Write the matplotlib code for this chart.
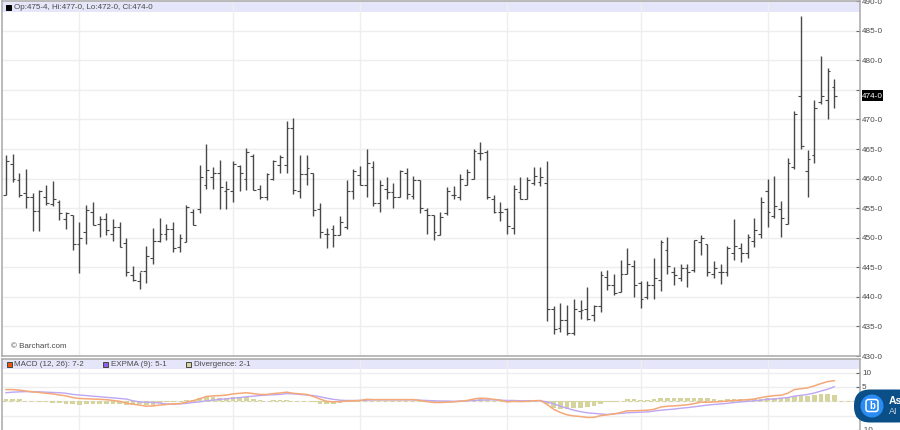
import matplotlib
matplotlib.use("Agg")
import matplotlib.pyplot as plt
from matplotlib.patches import FancyBboxPatch, Rectangle, Circle

plt.rcParams['font.family'] = ['Liberation Sans', 'DejaVu Sans']

highs = [464.0,464.2,461.0,461.7,457.6,458.15,458.9,459.6,456.35,454.4,453.8,452.7,455.5,456.0,453.7,454.1,453.1,452.7,449.9,445.3,
 444.2,448.6,451.7,453.4,452.3,452.7,450.6,455.5,454.8,462.3,465.8,462.0,463.2,459.6,463.0,462.3,465.2,464.1,458.9,461.0,
 463.2,464.0,469.8,470.2,464.0,464.0,461.0,455.9,451.7,452.2,453.65,459.7,461.7,462.1,465.0,463.0,459.7,460.3,459.2,461.4,
 461.8,460.5,459.75,454.95,453.8,454.4,458.6,458.7,460.8,461.7,465.0,466.2,464.8,457.3,456.1,455.0,458.9,460.3,460.3,462.0,
 462.0,463.0,438.4,438.9,438.7,439.7,439.4,441.7,438.6,444.4,444.6,443.9,446.2,448.2,446.2,442.6,442.7,446.6,449.6,450.1,
 445.0,445.6,445.6,449.7,450.4,449.0,446.1,445.5,448.6,453.1,449.1,450.6,453.4,456.9,459.9,460.5,456.2,463.5,471.5,487.5,
 464.8,473.3,480.7,478.7,476.9]
lows = [457.2,459.45,456.9,455.1,451.2,451.2,455.5,455.4,453.0,451.4,447.9,444.1,448.9,452.1,450.1,450.4,449.5,448.5,443.5,442.7,
 441.4,442.4,445.6,449.3,449.6,447.6,447.6,449.2,452.1,454.1,458.3,458.3,454.8,454.8,456.1,457.9,458.0,458.0,456.5,456.35,
 459.7,461.0,461.0,457.4,456.64,458.9,453.7,450.0,448.2,448.35,450.4,451.5,456.6,458.9,456.9,455.4,454.4,456.6,455.1,456.9,
 456.6,456.6,454.1,450.6,449.7,450.4,453.9,456.5,456.4,458.9,459.9,463.2,456.5,454.1,452.9,450.6,450.6,456.6,456.6,459.0,
 458.7,436.0,433.7,434.0,433.5,433.6,436.2,436.1,436.0,437.5,441.2,440.4,440.8,443.9,440.0,438.2,439.7,439.7,441.0,443.9,
 442.0,442.7,441.7,444.2,447.0,443.5,443.2,442.2,443.5,446.2,445.9,446.5,448.5,449.9,451.8,453.4,450.1,452.4,461.6,465.0,
 456.9,462.7,472.7,470.0,472.0]
opens = [457.2,462.55,459.7,457.5,456.9,454.5,456.9,455.7,456.1,453.1,453.8,448.9,450.9,454.3,452.3,453.2,450.7,451.8,449.1,443.7,
 442.7,444.4,446.5,449.5,450.7,451.4,448.5,449.3,454.3,454.9,458.9,460.3,461.0,457.9,457.9,462.2,460.0,463.9,458.2,456.9,
 459.9,462.3,462.3,468.5,457.88,460.8,460.9,454.9,450.7,451.4,450.4,451.85,457.9,460.6,458.9,462.0,455.9,458.3,457.7,456.9,
 460.9,457.1,459.75,454.7,453.8,450.4,454.1,457.2,456.9,458.9,459.9,464.4,464.5,456.6,454.4,454.8,451.6,457.8,456.6,459.2,
 459.5,459.2,438.0,434.8,436.1,433.9,437.6,437.9,436.9,438.4,443.4,442.0,440.8,443.9,445.2,442.4,439.9,442.0,442.9,448.0,
 444.2,443.2,444.8,444.6,449.3,448.9,443.8,444.2,444.2,447.5,448.2,447.4,449.5,450.7,457.9,453.6,454.9,452.4,462.0,474.0,
 461.3,464.0,473.0,473.3,475.5]
closes = [462.9,459.9,457.2,456.9,454.5,457.9,455.9,456.6,454.2,454.1,448.9,449.9,454.7,452.1,453.2,451.3,451.8,448.5,444.2,442.9,
 444.4,446.9,449.5,450.6,451.4,448.2,449.9,455.2,452.1,460.3,461.5,461.0,458.6,458.2,462.4,460.9,464.5,458.0,456.9,460.7,
 462.9,463.7,468.5,458.0,460.76,461.8,454.7,450.9,450.7,450.4,452.7,457.9,461.3,458.9,462.6,455.9,458.9,457.7,456.9,461.3,
 457.4,459.75,454.95,453.8,450.9,453.5,457.9,457.2,459.9,461.1,464.7,464.4,456.9,454.4,454.4,452.0,458.2,456.6,459.7,460.5,
 460.2,438.0,434.5,436.1,433.9,438.0,437.75,436.2,438.5,443.7,442.0,440.6,443.9,445.6,442.0,439.7,442.0,443.2,449.2,445.2,
 443.7,444.8,444.2,449.7,450.0,444.2,444.8,444.2,448.3,448.6,447.4,450.1,451.3,456.0,454.3,455.4,453.4,462.7,471.0,465.5,
 463.3,472.0,474.0,478.2,474.0]

macd = [4.1,4.1,3.9,3.6,3.3,3.1,2.8,2.6,2.2,1.9,1.3,1.0,.9,.8,.7,.6,.3,0,-.6,-1,-1.3,-1.7,-1.6,-1.3,-1.1,-.9,-.8,-.3,.2,.9,
 1.7,1.9,2.0,2.2,2.6,2.8,3.0,2.7,2.4,2.4,2.7,2.9,3.2,2.8,2.6,2.4,1.7,.8,0,-.2,-.1,.1,.2,.3,.7,.6,.6,.6,.6,.6,
 .6,.6,.3,-.1,-.4,-.4,-.3,-.2,0,.3,.8,1.1,1.0,.7,.4,-.2,0,-.1,0,.2,.3,-1.1,-2.8,-3.9,-4.7,-5.1,-5.3,-5.6,-5.6,-5,
 -4.7,-4.4,-3.9,-3.3,-3.3,-3.2,-3.1,-2.8,-2.0,-1.7,-1.6,-1.4,-1.2,-.8,-.3,-.3,-.2,-.1,.1,.3,.4,.6,.8,1.3,1.7,2,2.1,2.8,4.1,4.4,
 4.7,5.4,6.2,6.9,7.2]
expma = [3.0,3.2,3.3,3.4,3.3,3.3,3.2,3.1,3,2.8,2.4,2.2,2,1.8,1.6,1.4,1.2,1,.8,.2,-.2,-.3,-.4,-.6,-.9,-1,-.9,-.7,-.4,-.2,
 .2,.4,.7,.9,1.1,1.3,1.6,1.8,2,2.2,2.3,2.4,2.7,2.6,2.4,2.2,2.0,1.6,1.1,.7,.4,.3,.3,.3,.4,.5,.5,.5,.5,.5,
 .5,.5,.4,.3,.2,.1,.1,0,.1,.2,.3,.4,.5,.5,.4,.3,.3,.2,.2,.2,.2,-.2,-.9,-1.7,-2.4,-3.1,-3.6,-4,-4.2,-4.4,
 -4.6,-4.4,-4.2,-4,-3.9,-3.8,-3.7,-3.4,-3.1,-2.9,-2.7,-2.4,-2.2,-1.9,-1.6,-1.3,-1.1,-.9,-.7,-.4,-.2,0,.2,.4,.7,.8,1.1,1.3,1.8,2.1,
 2.4,2.9,3.6,4.2,5.1]
divergence = [.9,.9,.7,.1,.1,-.1,-.3,-.5,-.7,-.9,-1.1,-1.2,-1.1,-1,-.9,-.8,-.8,-1,-1.3,-1.3,-1.1,-1.2,-1.2,-.7,-.2,-.1,.1,.4,.6,1.1,
 1.5,1.5,1.3,1.3,1.5,1.5,1.4,.9,.4,.2,.4,.5,.5,.2,.2,.2,-.3,-.8,-1.1,-.9,-.5,-.2,-.1,0,.2,.1,.1,.1,.1,.1,
 .1,.1,-.1,-.3,-.5,-.5,-.4,-.2,-.1,.1,.5,.7,.5,.2,0,-.4,-.3,-.3,-.2,0,.1,-.8,-2.2,-2.6,-2.8,-2.4,-2.2,-1.9,-1.5,-.8,
 -.3,-.1,.2,.8,.8,.6,.6,.7,1.2,1.2,1.1,1.1,1.1,1.2,1.3,1.0,.9,.6,.7,.7,.7,.7,.9,.9,1.0,1.1,1.1,1.2,1.7,1.9,
 2,2.2,2.4,2.7,2.2]

grid_bars = [11, 34, 53, 75, 95, 114]
price_ticks = [490,485,480,470,465,460,455,450,445,440,435,430]
price_labels = ['490-0','485-0','480-0','470-0','465-0','460-0','455-0','450-0','445-0','440-0','435-0','430-0']
study_ticks = [10,5,-5,-10]
header = 'Op:475-4, Hi:477-0, Lo:472-0, Cl:474-0'
last_label = '474-0'
last_value = 474.0

W, H = 900, 430
fig = plt.figure(figsize=(W/100, H/100), dpi=100, facecolor='white')
def axes_px(x0, y0, x1, y1):
    return fig.add_axes([x0/W, 1-y1/H, (x1-x0)/W, (y1-y0)/H])

GRID = '#eeeeee'; FRAME = '#a8a8a8'; BAND = '#e6e6fa'; BAR = '#484848'; TXT = '#4a4a4a'; DIV = '#d4d49c'
XL = (-0.6, 127.84)
FS = 5.8
TICK_FS = 5.9
n = list(range(len(highs)))

ax = axes_px(2, 1.2, 860, 356)
ax.set_xlim(*XL); ax.set_ylim(430, 490)
ax.axhspan(488.1, 490, color=BAND, lw=0, zorder=0)
for t in range(430, 491, 5):
    ax.axhline(t, color=GRID, lw=1.0, zorder=1)
for b in grid_bars:
    ax.axvline(b, color=GRID, lw=1.0, zorder=1)
ax.vlines(n, lows, highs, color=BAR, lw=1.0, zorder=3)
ax.hlines(opens, [i-0.42 for i in n], n, color=BAR, lw=0.8, zorder=3)
ax.hlines(closes, n, [i+0.42 for i in n], color=BAR, lw=0.8, zorder=3)
ax.set_xticks([])
ax.yaxis.tick_right()
ax.set_yticks(price_ticks + [475])
ax.set_yticklabels(price_labels + [''])
ax.tick_params(axis='y', direction='in', length=3, width=0.8, color='#666666', labelsize=TICK_FS,
               labelcolor=TXT, pad=1.5)
for s in ax.spines.values():
    s.set_color(FRAME); s.set_linewidth(1.1)

ax2 = axes_px(2, 359, 860, 430)
ylim2 = ((403.3-430)/3, (403.3-359)/3)
ax2.set_xlim(*XL); ax2.set_ylim(*ylim2)
ax2.axhspan((403.3-369.5)/3, ylim2[1], color=BAND, lw=0, zorder=0)
for t in [10, 5, 0, -5]:
    ax2.axhline(t, color=GRID, lw=1.0, zorder=1)
for b in grid_bars:
    ax2.axvline(b, color=GRID, lw=1.0, zorder=1)
ax2.bar(n, divergence, width=0.7, color=DIV, lw=0, zorder=2)
ax2.axhline(0, color=DIV, lw=0.7, ls=(0, (4, 3)), zorder=2)
ax2.plot(n, expma, color='#bda6f3', lw=1.0, zorder=3)
ax2.plot(n, macd, color='#f5a878', lw=1.1, zorder=4)
ax2.set_xticks([])
ax2.yaxis.tick_right()
ax2.set_yticks(study_ticks)
ax2.set_yticklabels(['10', '5', '-5', '-10'])
ax2.tick_params(axis='y', direction='in', length=3, width=0.8, color='#666666', labelsize=TICK_FS,
                labelcolor=TXT, pad=1.5)
ax2.spines['bottom'].set_visible(False)
for k in ['top', 'left', 'right']:
    ax2.spines[k].set_color(FRAME); ax2.spines[k].set_linewidth(1.1)

ov = fig.add_axes([0, 0, 1, 1], zorder=10)
ov.set_xlim(0, W); ov.set_ylim(H, 0); ov.axis('off'); ov.patch.set_alpha(0)

def sw(x, y, fc, ec):
    ov.add_patch(Rectangle((x, y-2.5), 5, 5, fc=fc, ec=ec, lw=0.7))
sw(6, 7, '#000000', '#000000')
ov.text(14.5, 7.2, header, fontsize=FS, color=TXT, va='center')
ov.text(11, 346.5, '© Barchart.com', fontsize=FS, color=TXT, va='center')
sw(6.5, 364.5, '#e8590c', '#444444')
ov.text(14.5, 364.7, 'MACD (12, 26): 7-2', fontsize=FS, color=TXT, va='center')
sw(103, 364.5, '#8f5fe8', '#444444')
ov.text(111, 364.7, 'EXPMA (9): 5-1', fontsize=FS, color=TXT, va='center')
sw(186, 364.5, '#d6d6a0', '#444444')
ov.text(194.5, 364.7, 'Divergence: 2-1', fontsize=FS, color=TXT, va='center')

y_last = 1.2 + (490-last_value)/60*(356-1.2)
ov.add_patch(Rectangle((862, y_last-5.5), 21, 11, fc='#000000', ec='none'))
ov.text(872.5, y_last+0.2, last_label, fontsize=TICK_FS, color='white', ha='center', va='center')

ov.add_patch(FancyBboxPatch((854, 389.5), 60, 33, boxstyle='round,pad=0,rounding_size=16',
                            fc='#0b4f88', ec='none'))
ov.add_patch(Circle((872, 406), 11.5, fc='#2a8bf2', ec='none'))
ov.add_patch(FancyBboxPatch((866, 399.5), 12, 12, boxstyle='round,pad=0,rounding_size=2.5',
                            fc='none', ec='white', lw=1.1))
ov.text(872, 405.7, 'b', fontsize=7, color='white', fontweight='bold', ha='center', va='center')
ov.text(888.5, 400.5, 'As', fontsize=7.5, color='white', fontweight='bold', va='center', clip_on=True)
ov.text(888.5, 412, 'AI', fontsize=6.5, color='#c8d4e0', va='center', clip_on=True)

fig.savefig('out.png', dpi=100)
